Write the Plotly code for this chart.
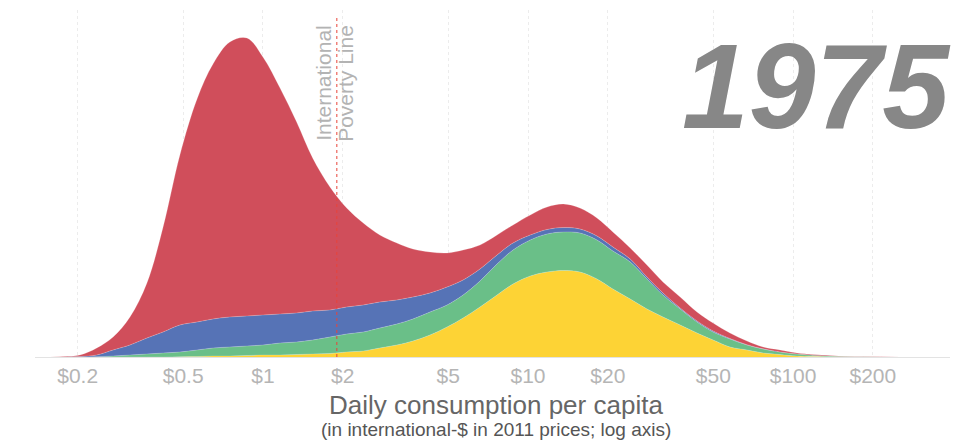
import numpy as np
import plotly.graph_objects as go

# daily consumption ($, log axis) at which the distribution is sampled
income = [0.15, 0.176, 0.204, 0.236, 0.272, 0.315, 0.365, 0.42, 0.486, 0.564, 0.648,
          0.75, 0.87, 1.0, 1.16, 1.34, 1.54, 1.79, 2.07, 2.39, 2.76, 3.2, 3.68,
          4.27, 4.95, 5.69, 6.59, 7.64, 8.78, 10.2, 11.8, 13.6, 15.7, 18.2, 20.9,
          24.3, 28.1, 32.3, 37.5, 43.4, 49.9, 57.8, 67.0, 77.1, 89.3, 103.5, 138,
          184, 253, 350]

# population density per region (stacked bottom -> top)
europe = [0, 0, 0, 0, 0, 0, 0, 0, 0.3, 0.5, 1, 1, 1.5, 2, 2, 2.5, 3, 3.5, 5, 6,
          9, 12, 16, 22, 30, 39, 50, 62, 73, 81, 85, 86.5, 85, 78, 68, 58, 48, 40,
          32, 24, 17, 10, 7, 4, 2.5, 1, 0.3, 0, 0, 0]
americas = [0, 0, 0, 0.3, 1, 2, 3, 4, 4.7, 6.5, 8, 9, 9.5, 10, 12, 12.5, 14, 16.5,
            18, 19, 20, 21, 22, 23, 22, 23, 26, 31, 34, 36, 38, 38.5, 39, 39, 38,
            37, 30, 22, 16, 11, 8, 8, 5, 4, 2.5, 2, 0.7, 0.2, 0, 0]
africa = [0, 0, 0.5, 1.7, 6, 10, 16, 21, 27, 28, 29, 30, 30, 30, 29, 29, 29, 27,
          27, 27, 26, 24, 22, 19, 18, 15, 12, 9, 7, 5, 4.5, 4.5, 4, 4, 4, 3, 2, 2,
          1, 1, 1, 0.5, 0.3, 0.2, 0.1, 0.1, 0, 0, 0, 0]
asia = [0, 0.5, 1.5, 7, 13, 28, 55, 105, 170, 223, 255, 275, 278, 258, 226, 191,
        153, 123, 99, 82, 67, 57, 48, 41, 34, 30, 24, 20, 18, 20, 22.5, 23.5, 21,
        18, 15, 11, 12, 11, 11, 9, 8, 5.5, 3.7, 1.8, 1.9, 0.9, 0.5, 0.2, 0, 0]

tick_vals = [0.2, 0.5, 1, 2, 5, 10, 20, 50, 100, 200]
tick_text = ["$0.2", "$0.5", "$1", "$2", "$5", "$10", "$20", "$50", "$100", "$200"]
poverty_line = 1.9
year = "1975"

series = [("Europe", europe, "#FDD335"), ("Americas", americas, "#6ABF88"),
          ("Africa", africa, "#5673B6"), ("Asia", asia, "#D04E5B")]

fig = go.Figure()
for name, vals, col in series:
    fig.add_trace(go.Scatter(
        x=income, y=vals, name=name, mode="lines", stackgroup="one",
        line=dict(width=0.5, color="rgba(255,255,255,0.4)", shape="spline", smoothing=1.0),
        fillcolor=col, hoverinfo="skip"))

fig.add_trace(go.Scatter(
    x=[poverty_line, poverty_line], y=[0, 339], mode="lines",
    line=dict(color="#E8443A", width=1, dash="dot"), hoverinfo="skip"))

fig.update_layout(
    width=965, height=445,
    margin=dict(l=35, r=15, t=10, b=88),
    paper_bgcolor="white", plot_bgcolor="white",
    showlegend=False,
    font=dict(family="Arial, Liberation Sans, sans-serif"),
    xaxis=dict(type="log", range=[-0.86, 2.592],
               tickvals=tick_vals, ticktext=tick_text,
               tickfont=dict(size=21, color="#b5b5b5"),
               showgrid=True, gridcolor="#ececec", griddash="dot", gridwidth=1,
               showline=True, linecolor="#e3e3e3", linewidth=1,
               zeroline=False, ticks=""),
    yaxis=dict(range=[0, 347], visible=False, fixedrange=True),
)

# poverty line label (rotated, two lines)
for txt, shift in [("International", -14), ("Poverty Line", 8)]:
    fig.add_annotation(
        x=np.log10(poverty_line), xref="x", y=(357 - 83) / 347, yref="paper",
        yanchor="middle", text=txt, textangle=-90, showarrow=False, xshift=shift,
        font=dict(size=21, color="#b3b3b3"))

fig.add_annotation(
    x=1.003, xref="paper", xanchor="right", y=(357 - 86) / 347, yref="paper",
    yanchor="middle", text="<b><i>" + year + "</i></b>", showarrow=False,
    font=dict(size=120, color="#878787"))

fig.add_annotation(
    x=0.504, xref="paper", y=(357 - 405) / 347, yref="paper", yanchor="middle",
    text="Daily consumption per capita", showarrow=False,
    font=dict(size=26, color="#666666"))
fig.add_annotation(
    x=0.504, xref="paper", y=(357 - 429) / 347, yref="paper", yanchor="middle",
    text="(in international-$ in 2011 prices; log axis)", showarrow=False,
    font=dict(size=19, color="#555555"))

fig.write_html("out.html", config={"displayModeBar": False},
               post_script="document.body.style.margin='0';")
